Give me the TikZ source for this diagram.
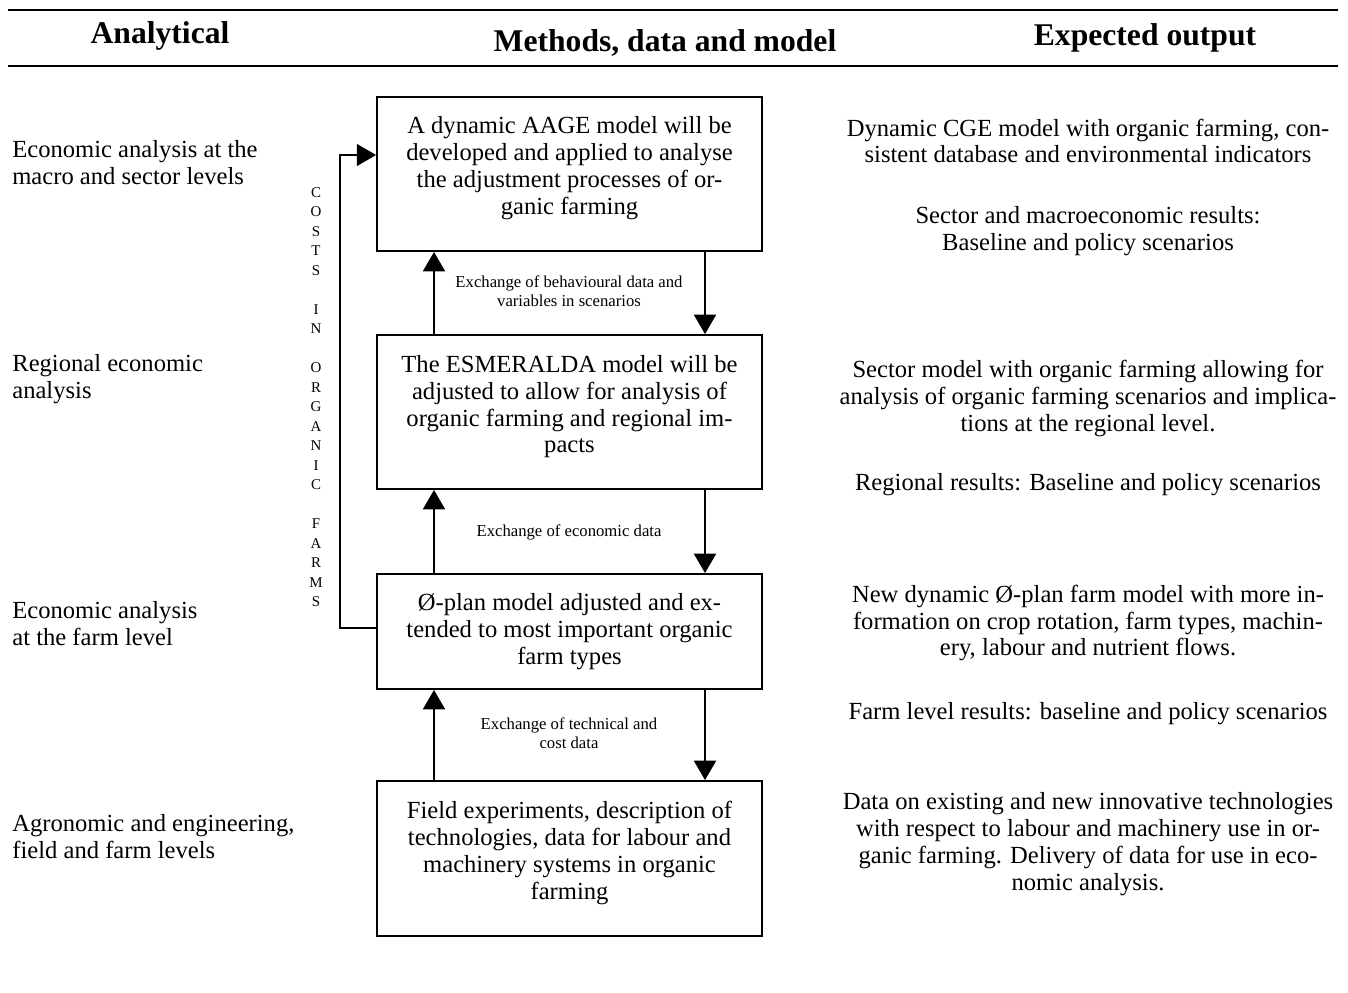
\documentclass[tikz,border=0pt]{standalone}
\usepackage{fontspec}
\setmainfont{Liberation Serif}
\usetikzlibrary{arrows.meta}
\tikzset{
    box/.style={draw, line width=1.1pt, minimum width=7.7cm, align=center, inner sep=0pt, font=\fontsize{14}{15.3}\selectfont},
    head/.style={font=\fontsize{18}{20}\selectfont\bfseries},
    body/.style={font=\fontsize{14}{15.3}\selectfont},
    note/.style={align=center, font=\fontsize{9.5}{10.8}\selectfont},
    arr/.style={line width=1.1pt, -{Triangle[length=11pt, width=12.5pt]}},
}

\begin{document}
\begin{tikzpicture}[x=0.02cm, y=-0.02cm]
    \useasboundingbox (0,0) rectangle (1348,992);
    \def\bx{569.5};
    \def\xu{434};
    \def\xd{705};
    \def\xl{340};
    \def\xr{1088};
    % header
    \draw[line width=1.6pt] (8,10) -- (1338,10);
    \draw[line width=1.6pt] (8,66) -- (1338,66);
    \node[head] at (160,36) (H1) {Analytical};
    \node[head] at (665,43) (H2) {Methods, data and model};
    \node[head] at (1145,38) (H3) {Expected output};
    % left column
    \node[body, align=left, anchor=west, inner xsep=0pt] at (12,163) (L1) {Economic analysis at the\\macro and sector levels};
    \node[body, align=left, anchor=west, inner xsep=0pt] at (12,379) (L2) {Regional economic\\analysis};
    \node[body, align=left, anchor=west, inner xsep=0pt] at (12,624) (L3) {Economic analysis\\at the farm level};
    \node[body, align=left, anchor=west, inner xsep=0pt] at (12,837) (L4) {Agronomic and engineering,\\field and farm levels};
    % boxes
    \node[box, minimum height=3.08cm, text depth=10pt] at (\bx,174) (B1) {A dynamic AAGE model will be\\developed and applied to analyse\\the adjustment processes of or-\\ganic farming};
    \node[box, minimum height=3.08cm, text depth=9pt] at (\bx,412) (B2) {The ESMERALDA model will be\\adjusted to allow for analysis of\\organic farming and regional im-\\pacts};
    \node[box, minimum height=2.3cm] at (\bx,631.5) (B3) {Ø-plan model adjusted and ex-\\tended to most important organic\\farm types};
    \node[box, minimum height=3.1cm, text depth=9pt] at (\bx,858.5) (B4) {Field experiments, description of\\technologies, data for labour and\\machinery systems in organic\\farming};
    \node[note] at (569,291) (E1) {Exchange of behavioural data and\\variables in scenarios};
    \node[note] at (569,532) (E2) {Exchange of economic data};
    \node[note] at (569,733) (E3) {Exchange of technical and\\cost data};
    \coordinate (U) at (\xu,0);
    \coordinate (D) at (\xd,0);
    \draw[arr] (B2.north -| U) -- (B1.south -| U);
    \draw[arr] (B1.south -| D) -- (B2.north -| D);
    \draw[arr] (B3.north -| U) -- (B2.south -| U);
    \draw[arr] (B2.south -| D) -- (B3.north -| D);
    \draw[arr] (B4.north -| U) -- (B3.south -| U);
    \draw[arr] (B3.south -| D) -- (B4.north -| D);
    % costs feedback
    \node[align=center, font=\fontsize{8.5}{11.1}\selectfont] at (316,397) (V) {C\\O\\S\\T\\S\\[11.1pt]I\\N\\[11.1pt]O\\R\\G\\A\\N\\I\\C\\[11.1pt]F\\A\\R\\M\\S};
    \coordinate (FB) at (\xl,628);
    \coordinate (FT) at (\xl,155);
    \draw[arr] (B3.west |- FB) -- (FB) -- (FT) -- (B1.west |- FT);
    % right column
    \node[body, align=center] at (\xr,141) (R1) {Dynamic CGE model with organic farming, con-\\sistent database and environmental indicators};
    \node[body, align=center] at (\xr,231) (R2) {Sector and macroeconomic results:\\Baseline and policy scenarios};
    \node[body, align=center] at (\xr,398.5) (R3) {Sector model with organic farming allowing for\\analysis of organic farming scenarios and implica-\\tions at the regional level.};
    \node[body, align=center] at (\xr,484.5) (R4) {Regional results: Baseline and policy scenarios};
    \node[body, align=center] at (\xr,623) (R5) {New dynamic Ø-plan farm model with more in-\\formation on crop rotation, farm types, machin-\\ery, labour and nutrient flows.};
    \node[body, align=center] at (\xr,714) (R6) {Farm level results: baseline and policy scenarios};
    \node[body, align=center] at (\xr,844) (R7) {Data on existing and new innovative technologies\\with respect to labour and machinery use in or-\\ganic farming. Delivery of data for use in eco-\\nomic analysis.};
\end{tikzpicture}
\end{document}
